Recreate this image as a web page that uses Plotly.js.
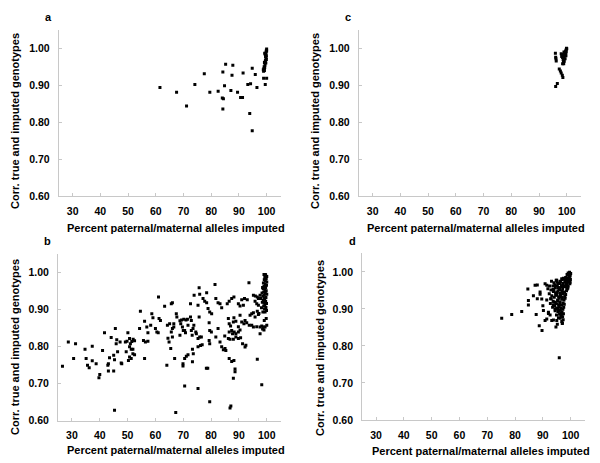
<!DOCTYPE html>
<html>
<head>
<meta charset="utf-8">
<script src="https://cdn.plot.ly/plotly-3.0.1.min.js"></script>
<style>html,body{margin:0;padding:0;background:#fff}#chart{width:600px;height:463px}</style>
</head>
<body>
<div id="chart"></div>
<script>
// ---- data ----
const panelLabels = ["a", "b", "c", "d"];
const xTickVals = [30, 40, 50, 60, 70, 80, 90, 100];
const yTickVals = [0.60, 0.70, 0.80, 0.90, 1.00];
const yTickText = ["0.60", "0.70", "0.80", "0.90", "1.00"];
const xTitle = "Percent paternal/maternal alleles imputed";
const yTitle = "Corr. true and imputed genotypes";

// panel a
const aX = [61.5,67.5,71.1,74.1,77.5,79.5,82.5,84.2,85.2,87.8,87.5,84.8,87.1,84.4,84.0,84.2,89.5,90.6,91.3,91.5,93.2,94.2,94.8,95.9,96.5,93.9,94.8,98.9,100.0,99.5,
  100.0,99.9,99.8,99.7,99.5,99.3,99.6,99.8,99.9,99.5,99.2,99.7,99.4,99.1,99.0,98.8,98.9,99.3,99.6,100.0,99.9,99.2];
const aY = [0.894,0.881,0.844,0.902,0.931,0.881,0.884,0.936,0.957,0.954,0.927,0.899,0.886,0.864,0.866,0.836,0.881,0.867,0.867,0.933,0.902,0.904,0.946,0.929,0.894,0.824,0.777,0.919,0.919,0.902,
  0.998,0.995,0.990,0.985,0.983,0.987,0.978,0.975,0.970,0.965,0.962,0.960,0.955,0.950,0.945,0.942,0.938,0.948,0.968,0.993,0.980,0.940];

// panel c
const cX = [95.9,96.0,96.1,96.2,97.3,97.7,98.0,98.4,98.6,96.6,96.0,
  98.0,98.3,98.5,98.7,98.8,98.5,99.0,99.2,99.3,99.5,99.6,99.8,100.0,99.9,99.4,99.1,98.9,99.6,99.8,98.6,98.2,99.0,99.7];
const cY = [0.987,0.976,0.972,0.966,0.944,0.939,0.933,0.927,0.921,0.905,0.897,
  0.985,0.980,0.975,0.970,0.962,0.958,0.975,0.980,0.985,0.990,0.993,0.996,0.999,1.000,0.972,0.965,0.958,0.985,0.990,0.983,0.978,0.990,0.980];

// panel b
const bX = [26.6,28.7,30.6,31.3,34.7,35.1,35.6,36.2,37.3,37.3,38.7,40.0,39.7,41.0,41.7,43.1,42.9,43.1,43.5,44.1,45.0,45.3,45.0,45.6,45.9,46.4,46.1,47.7,47.9,47.3,
  49.5,49.2,49.8,50.1,50.3,50.7,51.5,52.0,52.5,50.7,51.0,51.3,51.9,51.3,50.7,51.9,52.5,54.3,54.6,55.7,56.4,57.3,56.1,56.1,56.9,57.3,58.3,58.7,59.1,60.0,
  60.5,61.0,61.1,61.3,61.8,63.3,64.3,65.1,64.9,64.5,64.1,65.7,66.1,45.3,
  66.1,67.5,67.7,66.6,66.6,65.7,66.1,65.5,66.9,67.3,68.8,69.4,70.2,71.0,71.5,69.1,69.7,70.5,71.7,68.8,70.0,70.8,70.5,71.1,71.7,69.9,69.9,70.5,
  72.6,72.6,72.9,72.9,73.2,73.5,73.8,73.3,73.6,73.3,73.9,74.5,74.7,75.3,75.7,75.9,75.3,75.7,75.3,75.9,76.5,75.3,76.2,76.8,77.1,77.7,78.4,78.4,78.3,78.8,
  78.9,79.5,80.2,79.3,79.5,80.1,79.3,79.5,79.5,81.4,81.7,82.5,83.2,82.5,81.7,83.2,83.8,84.4,85.0,85.3,83.8,84.9,85.8,86.5,87.4,88.2,
  86.2,86.5,87.0,88.0,88.2,88.9,86.5,87.4,87.7,88.3,88.9,89.8,86.2,86.8,88.0,88.9,89.8,90.6,86.5,87.4,88.2,88.6,88.6,88.0,87.1,86.8,
  90.4,91.0,91.8,92.2,92.8,93.7,89.8,90.4,91.6,91.3,92.2,92.5,94.0,94.6,95.2,95.8,96.6,97.0,93.6,95.2,95.9,96.6,94.6,95.2,95.8,96.4,97.0,96.6,
  97.6,98.2,98.8,97.6,98.2,98.6,99.4,99.1,99.8,99.4,100.0,97.6,97.0,92.0,93.0,91.0,98.5,99.0,89.8,90.4,96.4,
  99.0,99.6,100.0,99.3,99.8,99.1,99.5,100.0,98.8,99.4,99.9,99.0,99.6,98.7,99.3,99.8,98.9,99.5,100.0,99.1,98.6,99.7,99.2,98.8,99.6,99.0,99.9,99.3,98.9,99.7,
  99.2,99.9,99.5,99.8,98.5,98.3,98.4,97.8,98.1,97.2];
const bY = [0.747,0.813,0.768,0.808,0.793,0.768,0.750,0.743,0.801,0.762,0.754,0.725,0.716,0.790,0.838,0.754,0.750,0.734,0.770,0.825,0.777,0.765,0.734,0.849,0.808,0.786,0.819,0.756,0.754,0.813,
  0.786,0.813,0.815,0.838,0.763,0.822,0.814,0.820,0.816,0.800,0.808,0.793,0.793,0.768,0.772,0.781,0.778,0.849,0.896,0.817,0.813,0.815,0.768,0.869,0.853,0.838,0.858,0.889,0.878,0.849,
  0.840,0.838,0.934,0.876,0.871,0.909,0.858,0.862,0.813,0.823,0.750,0.916,0.849,0.628,
  0.919,0.889,0.880,0.862,0.853,0.840,0.826,0.795,0.768,0.622,0.870,0.872,0.874,0.872,0.874,0.862,0.853,0.844,0.858,0.831,0.844,0.838,0.768,0.774,0.778,0.754,0.748,0.694,
  0.916,0.880,0.871,0.844,0.831,0.849,0.858,0.793,0.781,0.759,0.939,0.840,0.835,0.687,0.959,0.942,0.912,0.880,0.822,0.826,0.826,0.800,0.803,0.805,0.930,0.923,0.919,0.946,0.742,0.742,
  0.903,0.894,0.889,0.865,0.844,0.840,0.817,0.808,0.651,0.968,0.930,0.919,0.916,0.849,0.826,0.813,0.800,0.792,0.795,0.790,0.905,0.829,0.916,0.923,0.930,0.934,
  0.876,0.862,0.856,0.867,0.878,0.869,0.840,0.844,0.835,0.840,0.835,0.840,0.822,0.820,0.820,0.826,0.822,0.824,0.768,0.760,0.763,0.740,0.732,0.715,0.640,0.634,
  0.885,0.867,0.862,0.871,0.865,0.858,0.916,0.910,0.912,0.808,0.799,0.804,0.885,0.889,0.892,0.880,0.896,0.887,0.973,0.939,0.937,0.934,0.858,0.853,0.923,0.916,0.912,0.766,
  0.853,0.856,0.853,0.835,0.697,0.894,0.894,0.871,0.876,0.853,0.858,0.939,0.930,0.930,0.927,0.927,0.848,0.845,0.854,0.845,0.854,
  0.995,0.993,0.990,0.987,0.984,0.981,0.978,0.975,0.972,0.969,0.966,0.963,0.960,0.957,0.954,0.951,0.948,0.945,0.942,0.939,0.936,0.933,0.930,0.926,0.923,0.920,0.917,0.914,0.910,0.906,
  0.902,0.898,0.995,0.990,0.960,0.945,0.920,0.930,0.905,0.890];

// panel d
const dX = [75.2,78.8,82.4,84.6,84.8,84.8,86.6,87.6,88.0,88.7,89.7,89.0,89.6,90.0,90.8,91.4,90.8,92.0,92.6,93.2,94.4,95.0,95.2,95.9,97.0,
  87.2,89.0,88.0,91.4,90.2,92.0,93.8,92.8,94.0,91.4,95.0,96.2,94.7,93.8,
  93.1,94.0,94.8,95.5,96.2,96.9,97.4,93.6,94.5,95.2,96.0,96.7,92.9,93.8,94.6,95.4,96.3,97.0,93.2,94.1,95.0,95.8,96.4,93.7,94.5,95.3,96.1,94.2,95.0,95.7,
  96.3,95.4,96.0,96.6,92.4,91.8,92.3,93.0,92.7,93.5,94.4,94.9,95.6,
  99.1,99.6,99.9,98.7,99.3,99.8,98.2,98.9,99.5,97.6,99.9,98.5,99.2,96.8,
  97.9,98.7,99.4,96.3,97.2,99.7,95.1,98.2,96.7,97.6,98.4,99.1,95.6,94.3,97.1,98.8,
  96.0,96.9,97.8,98.5,95.2,93.7,97.3,98.2,96.4,95.7,97.0,97.9,94.6,96.8,97.6,98.0,
  95.4,96.2,97.3,94.9,96.7,97.7,95.8,93.9,96.5,97.2,95.9,97.5,96.9,95.3,97.4,
  96.6,97.1,96.2,97.3,96.8,97.0,96.4,99.6,100.0,99.4,98.9,99.8,98.6,99.0];
const dY = [0.875,0.885,0.893,0.954,0.923,0.911,0.936,0.885,0.965,0.855,0.842,0.940,0.927,0.909,0.869,0.873,0.968,0.891,0.884,0.869,0.900,0.869,0.859,0.768,0.862,
  0.964,0.946,0.928,0.924,0.896,0.888,0.910,0.928,0.951,0.964,0.978,0.969,0.851,0.870,
  0.975,0.971,0.978,0.969,0.974,0.979,0.983,0.962,0.958,0.963,0.955,0.961,0.951,0.947,0.944,0.949,0.942,0.946,0.936,0.932,0.937,0.929,0.934,0.921,0.918,0.924,0.915,0.908,0.903,0.911,
  0.898,0.893,0.886,0.879,0.962,0.955,0.941,0.928,0.915,0.905,0.895,0.884,0.876,
  0.997,0.999,0.995,0.993,0.991,0.989,0.985,0.983,0.986,0.981,0.980,0.978,0.977,0.982,
  0.974,0.971,0.973,0.975,0.969,0.968,0.972,0.966,0.963,0.961,0.959,0.962,0.958,0.965,0.955,0.954,
  0.951,0.948,0.946,0.949,0.944,0.953,0.941,0.939,0.937,0.933,0.931,0.934,0.938,0.926,0.924,0.929,
  0.922,0.919,0.916,0.914,0.911,0.913,0.907,0.918,0.903,0.899,0.896,0.905,0.892,0.901,0.887,
  0.884,0.879,0.875,0.871,0.866,0.861,0.889,0.993,0.996,0.984,0.975,0.972,0.964,0.957];

// ---- build ----
const mk = {symbol: "square", size: 3, color: "#000", line: {width: 0}};
function tr(x, y, n) {
  return {x: x, y: y, type: "scatter", mode: "markers", marker: mk, hoverinfo: "none",
          xaxis: "x" + (n === 1 ? "" : n), yaxis: "y" + (n === 1 ? "" : n)};
}
const data = [tr(aX, aY, 1), tr(bX, bY, 2), tr(cX, cY, 3), tr(dX, dY, 4)];

const tickFont = {family: "Liberation Sans, Arial, sans-serif", size: 10.5, color: "#000", weight: "bold"};
function xa(domain, anchor) {
  return {domain: domain, anchor: anchor, range: [25, 105], tickvals: xTickVals, showline: true,
    linecolor: "#c8c8c8", linewidth: 1, ticks: "inside", ticklen: 3, tickcolor: "#c8c8c8",
    showgrid: false, zeroline: false, tickfont: tickFont, ticklabelstandoff: 5, fixedrange: true};
}
function ya(domain, anchor) {
  return {domain: domain, anchor: anchor, range: [0.60, 1.05], tickvals: yTickVals, ticktext: yTickText,
    showline: true, linecolor: "#c8c8c8", linewidth: 1, ticks: "inside", ticklen: 3, tickcolor: "#c8c8c8",
    showgrid: false, zeroline: false, tickfont: tickFont, ticklabelstandoff: 6, fixedrange: true};
}
const titleFont = {family: "Liberation Sans, Arial, sans-serif", size: 11, color: "#000", weight: "bold"};
function ann(text, x, y, angle) {
  return {text: text, x: x / 600, y: 1 - y / 463, xref: "paper", yref: "paper", showarrow: false,
    xanchor: "center", yanchor: "middle", textangle: angle || 0, font: titleFont};
}
const annotations = [
  ann(panelLabels[0], 48, 17), ann(panelLabels[2], 348, 17), ann(panelLabels[1], 47, 241), ann(panelLabels[3], 352, 241),
  ann(xTitle, 176, 228), ann(xTitle, 476, 228), ann(xTitle, 176, 450), ann(xTitle, 481, 451),
  ann(yTitle, 15, 121, -90), ann(yTitle, 315, 121, -90), ann(yTitle, 15, 347, -90), ann(yTitle, 320, 348, -90)
];

const layout = {
  width: 600, height: 463, margin: {l: 0, r: 0, t: 0, b: 0},
  paper_bgcolor: "#fff", plot_bgcolor: "#fff", showlegend: false,
  xaxis: xa([0.098, 0.4675], "y"), yaxis: ya([0.576, 0.9356], "x"),
  xaxis2: xa([0.0967, 0.4678], "y2"), yaxis2: ya([0.0914, 0.451], "x2"),
  xaxis3: xa([0.598, 0.9677], "y3"), yaxis3: ya([0.576, 0.9356], "x3"),
  xaxis4: xa([0.6035, 0.9743], "y4"), yaxis4: ya([0.0929, 0.4525], "x4"),
  annotations: annotations
};
Plotly.newPlot("chart", data, layout, {staticPlot: true, displayModeBar: false});
</script>
</body>
</html>
